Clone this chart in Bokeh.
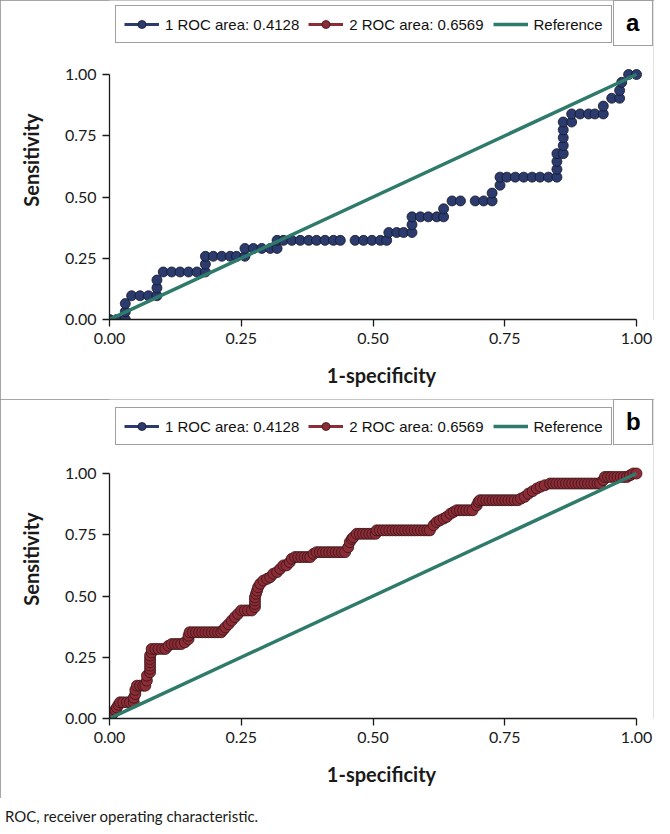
import numpy as np
from bokeh.plotting import figure
from bokeh.models import (Range1d, FixedTicker, NumeralTickFormatter,
                          Legend, LegendItem, Div)
from bokeh.layouts import column
from bokeh.embed import file_html
from bokeh.resources import INLINE

# ---------------- data ----------------
roc1_points = [
    (0.000, 0.000), (0.014, 0.000), (0.030, 0.000), (0.030, 0.032), (0.030, 0.065),
    (0.042, 0.097), (0.058, 0.097), (0.074, 0.097), (0.090, 0.097), (0.090, 0.129),
    (0.090, 0.161), (0.102, 0.194), (0.118, 0.194), (0.134, 0.194), (0.150, 0.194),
    (0.166, 0.194), (0.182, 0.194), (0.182, 0.226), (0.182, 0.258), (0.197, 0.258),
    (0.213, 0.258), (0.229, 0.258), (0.241, 0.258), (0.257, 0.258), (0.257, 0.290),
    (0.273, 0.290), (0.289, 0.290), (0.305, 0.290), (0.318, 0.290), (0.318, 0.323),
    (0.330, 0.323), (0.346, 0.323), (0.362, 0.323), (0.378, 0.323), (0.393, 0.323),
    (0.409, 0.323), (0.425, 0.323), (0.438, 0.323), (0.466, 0.323), (0.482, 0.323),
    (0.498, 0.323), (0.514, 0.323), (0.526, 0.323), (0.530, 0.355), (0.545, 0.355),
    (0.558, 0.355), (0.574, 0.355), (0.574, 0.387), (0.574, 0.419), (0.590, 0.419),
    (0.605, 0.419), (0.621, 0.419), (0.634, 0.419), (0.634, 0.452), (0.650, 0.484),
    (0.666, 0.484), (0.694, 0.484), (0.710, 0.484), (0.726, 0.484), (0.726, 0.516),
    (0.741, 0.548), (0.741, 0.581), (0.754, 0.581), (0.770, 0.581), (0.786, 0.581),
    (0.802, 0.581), (0.817, 0.581), (0.833, 0.581), (0.849, 0.581), (0.849, 0.613),
    (0.849, 0.645), (0.849, 0.677), (0.861, 0.677), (0.861, 0.710), (0.861, 0.742),
    (0.861, 0.774), (0.861, 0.806), (0.877, 0.806), (0.877, 0.839), (0.893, 0.839),
    (0.909, 0.839), (0.921, 0.839), (0.937, 0.839), (0.937, 0.871), (0.953, 0.903),
    (0.968, 0.903), (0.968, 0.935), (0.972, 0.968), (0.985, 1.000), (1.000, 1.000),
]

roc2_points = [
    (0.000, 0.000), (0.004, 0.012), (0.008, 0.025), (0.011, 0.035), (0.014, 0.045),
    (0.017, 0.056), (0.020, 0.066), (0.026, 0.066), (0.033, 0.066), (0.039, 0.066),
    (0.046, 0.066), (0.046, 0.085), (0.049, 0.100), (0.049, 0.117), (0.052, 0.134),
    (0.058, 0.134), (0.064, 0.134), (0.068, 0.134), (0.071, 0.155), (0.071, 0.175),
    (0.077, 0.189), (0.077, 0.203), (0.077, 0.216), (0.077, 0.230), (0.077, 0.243),
    (0.077, 0.257), (0.080, 0.270), (0.080, 0.284), (0.087, 0.284), (0.093, 0.284),
    (0.100, 0.284), (0.106, 0.284), (0.112, 0.297), (0.118, 0.304), (0.124, 0.304),
    (0.130, 0.304), (0.136, 0.304), (0.143, 0.311), (0.150, 0.324), (0.150, 0.338),
    (0.152, 0.352), (0.158, 0.352), (0.164, 0.352), (0.170, 0.352), (0.176, 0.352),
    (0.182, 0.352), (0.188, 0.352), (0.194, 0.352), (0.200, 0.352), (0.206, 0.352),
    (0.212, 0.352), (0.216, 0.362), (0.220, 0.372), (0.226, 0.385), (0.232, 0.400),
    (0.238, 0.414), (0.244, 0.427), (0.250, 0.441), (0.257, 0.441), (0.263, 0.441),
    (0.270, 0.441), (0.276, 0.455), (0.276, 0.468), (0.276, 0.482), (0.276, 0.495),
    (0.278, 0.509), (0.280, 0.522), (0.282, 0.536), (0.286, 0.550), (0.292, 0.563),
    (0.299, 0.570), (0.305, 0.577), (0.311, 0.591), (0.318, 0.598), (0.324, 0.611),
    (0.330, 0.625), (0.336, 0.625), (0.342, 0.638), (0.346, 0.652), (0.352, 0.659),
    (0.358, 0.659), (0.364, 0.659), (0.370, 0.659), (0.376, 0.659), (0.381, 0.659),
    (0.387, 0.672), (0.393, 0.679), (0.399, 0.679), (0.405, 0.679), (0.411, 0.679),
    (0.417, 0.679), (0.423, 0.679), (0.429, 0.679), (0.435, 0.679), (0.441, 0.679),
    (0.447, 0.679), (0.453, 0.699), (0.456, 0.720), (0.460, 0.733), (0.463, 0.740),
    (0.469, 0.754), (0.475, 0.754), (0.481, 0.754), (0.487, 0.754), (0.493, 0.754),
    (0.499, 0.754), (0.505, 0.754), (0.507, 0.768), (0.513, 0.768), (0.519, 0.768),
    (0.525, 0.768), (0.531, 0.768), (0.537, 0.768), (0.543, 0.768), (0.549, 0.768),
    (0.555, 0.768), (0.561, 0.768), (0.567, 0.768), (0.573, 0.768), (0.579, 0.768),
    (0.585, 0.768), (0.591, 0.768), (0.597, 0.768), (0.603, 0.768), (0.608, 0.768),
    (0.615, 0.789), (0.621, 0.802), (0.627, 0.809), (0.634, 0.816), (0.640, 0.823),
    (0.647, 0.836), (0.653, 0.843), (0.659, 0.850), (0.665, 0.850), (0.671, 0.850),
    (0.677, 0.850), (0.683, 0.850), (0.689, 0.850), (0.697, 0.870), (0.700, 0.884),
    (0.703, 0.891), (0.709, 0.891), (0.715, 0.891), (0.721, 0.891), (0.727, 0.891),
    (0.733, 0.891), (0.739, 0.891), (0.745, 0.891), (0.751, 0.891), (0.757, 0.891),
    (0.763, 0.891), (0.769, 0.891), (0.775, 0.891), (0.781, 0.898), (0.788, 0.905),
    (0.795, 0.918), (0.803, 0.928), (0.811, 0.939), (0.818, 0.946), (0.826, 0.952),
    (0.836, 0.959), (0.842, 0.959), (0.848, 0.959), (0.854, 0.959), (0.860, 0.959),
    (0.866, 0.959), (0.872, 0.959), (0.878, 0.959), (0.884, 0.959), (0.890, 0.959),
    (0.896, 0.959), (0.902, 0.959), (0.908, 0.959), (0.914, 0.959), (0.920, 0.959),
    (0.926, 0.959), (0.931, 0.959), (0.937, 0.973), (0.940, 0.986), (0.946, 0.986),
    (0.952, 0.986), (0.958, 0.986), (0.964, 0.986), (0.970, 0.986), (0.976, 0.986),
    (0.982, 0.986), (0.988, 0.993), (0.994, 1.000), (1.000, 1.000),
]

fpr_1 = [p[0] for p in roc1_points]
tpr_1 = [p[1] for p in roc1_points]
fpr_2 = [p[0] for p in roc2_points]
tpr_2 = [p[1] for p in roc2_points]

ref_x = [0.0, 1.0]
ref_y = [0.0, 1.0]
tick_values = [0.0, 0.25, 0.5, 0.75, 1.0]
series_labels = ["1 ROC area: 0.4128", "2 ROC area: 0.6569", "Reference"]
panel_letters = ["a", "b"]
x_title = "1-specificity"
y_title = "Sensitivity"
caption = "ROC, receiver operating characteristic."

# ---------------- style ----------------
NAVY = "#2b3b6d"
NAVY_EDGE = "#16182a"
MAROON = "#8b2c36"
MAROON_EDGE = "#3a1416"
TEAL = "#2e7a6b"
AXIS = "#1a1a1a"
TICK_FONT = "Lato"
LEG_FONT = "Liberation Sans"

W = 654
FRAME_LEFT = 109
X_END = (653 - 109) / 527


def build_panel(letter, show_series, height, y0_px, y1_px, leg_top):
    unit = y0_px - y1_px
    p = figure(width=W, height=height,
               x_range=Range1d(0, X_END), y_range=Range1d(0, 1 + y1_px / unit),
               output_backend="svg", toolbar_location=None,
               min_border_left=FRAME_LEFT, min_border_right=1,
               min_border_top=0, min_border_bottom=height - y0_px)
    p.outline_line_color = None
    p.xgrid.visible = False
    p.ygrid.visible = False
    p.background_fill_color = "white"
    p.border_fill_color = "white"
    p.styles = {"outline": "1px solid #8a8a8a", "outline-offset": "-1px"}

    for ax in (p.xaxis[0], p.yaxis[0]):
        ax.bounds = (0, 1)
        ax.ticker = FixedTicker(ticks=tick_values)
        ax.formatter = NumeralTickFormatter(format="0.00")
        ax.axis_line_color = AXIS
        ax.axis_line_width = 1.3
        ax.major_tick_line_color = AXIS
        ax.major_tick_line_width = 1.3
        ax.major_tick_out = 7
        ax.major_tick_in = 0
        ax.minor_tick_line_color = None
        ax.major_label_text_font = TICK_FONT
        ax.major_label_text_font_size = "16px"
        ax.major_label_text_color = AXIS
        ax.major_label_standoff = 6
        ax.axis_label_text_font = TICK_FONT
        ax.axis_label_text_font_style = "bold"
        ax.axis_label_text_font_size = "20px"
        ax.axis_label_text_color = AXIS
    p.xaxis[0].axis_label = x_title
    p.xaxis[0].axis_label_standoff = 16
    p.yaxis[0].axis_label = y_title
    p.yaxis[0].axis_label_standoff = 19

    nan = [np.nan]
    if show_series == 1:
        s1 = p.scatter(fpr_1, tpr_1, size=10, fill_color=NAVY, line_color=NAVY_EDGE, line_width=0.8)
        s2 = p.scatter(nan, nan, size=10, fill_color=MAROON, line_color=MAROON_EDGE, line_width=0.8)
    else:
        s1 = p.scatter(nan, nan, size=10, fill_color=NAVY, line_color=NAVY_EDGE, line_width=0.8)
        s2 = p.scatter(fpr_2, tpr_2, size=11, fill_color=MAROON, line_color=MAROON_EDGE, line_width=0.8)
    l1 = p.line(nan, nan, line_color=NAVY, line_width=3)
    l2 = p.line(nan, nan, line_color=MAROON, line_width=3)
    ref = p.line(ref_x, ref_y, line_color=TEAL, line_width=3.5)

    legend = Legend(items=[LegendItem(label=series_labels[0], renderers=[l1, s1]),
                           LegendItem(label=series_labels[1], renderers=[l2, s2]),
                           LegendItem(label=series_labels[2], renderers=[ref])],
                    location=(6, y0_px - leg_top - 38), orientation="horizontal",
                    glyph_width=35, glyph_height=20, label_height=20,
                    label_standoff=6, spacing=9, padding=8, margin=0,
                    label_text_font=LEG_FONT, label_text_font_size="15px",
                    label_text_color="#111111",
                    border_line_color="#404040", border_line_width=1,
                    background_fill_color="white", background_fill_alpha=1)
    p.add_layout(legend)

    dummy = p.scatter(nan, nan, size=1, alpha=0)
    letter_box = Legend(items=[LegendItem(label=letter, renderers=[dummy])],
                        location="top_right", margin=0, padding=8,
                        glyph_width=4, glyph_height=16, label_width=18, label_height=16,
                        label_standoff=0,
                        label_text_font=LEG_FONT, label_text_font_style="bold",
                        label_text_font_size="24px", label_text_color="#000000",
                        border_line_color="#404040", border_line_width=1,
                        background_fill_color="white", background_fill_alpha=1)
    p.add_layout(letter_box)
    return p


pa = build_panel(panel_letters[0], 1, 399, 319, 74, 5)
pb = build_panel(panel_letters[1], 2, 399, 319, 74, 8)

cap = Div(text='<div style="font-family:Lato;font-size:15px;color:#1a1a1a;padding-top:3px">'
               + caption + '</div>', width=W, height=20)

layout = column(pa, pb, cap, spacing=0)
open("out.html", "w").write(file_html(layout, INLINE))
